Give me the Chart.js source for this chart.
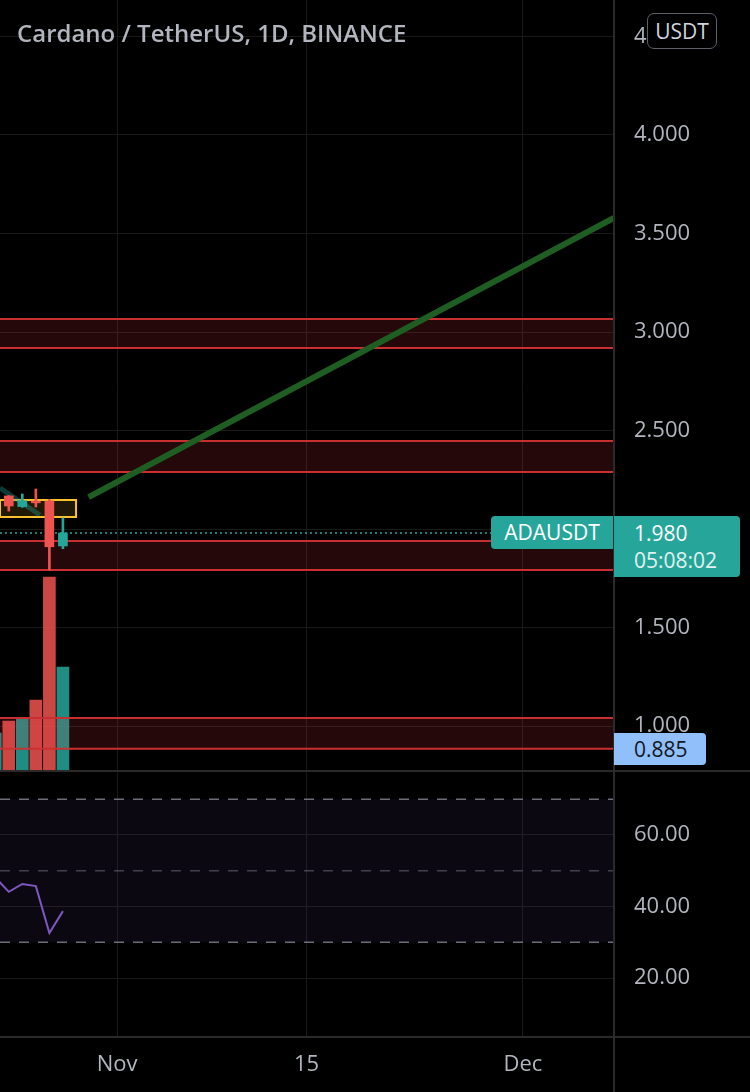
<!DOCTYPE html>
<html>
<head>
<meta charset="utf-8">
<script src="https://cdn.jsdelivr.net/npm/chart.js@4.4.1/dist/chart.umd.min.js"></script>
<style>
body { margin: 0; background: #000; }
#wrap { position: relative; width: 750px; height: 1092px; overflow: hidden; background: #000; font-family: 'Open Sans', sans-serif; }
canvas { position: absolute; left: 0; }
#main { top: 0; }
#rsi { top: 771px; }
.hline { position: absolute; left: 0; width: 750px; height: 2px; background: #2a2a2a; }
.vline { position: absolute; top: 0; left: 613px; width: 2px; height: 1092px; background: #2a2a2a; }
#title { position: absolute; left: 17px; top: 16px; font-size: 24px; font-weight: 600; color: #b2b5be; line-height: 34px; }
#unit { position: absolute; left: 647px; top: 13px; width: 68px; height: 34px; border: 1.5px solid #5d606b; border-radius: 7px; background: #000; color: #d1d4dc; font-size: 21px; line-height: 34px; text-align: center; }
#sym { position: absolute; left: 491px; top: 516px; width: 122px; height: 33px; background: #26a69a; border-radius: 4px 0 0 4px; color: #fff; font-size: 21px; line-height: 33px; text-align: center; }
#last { position: absolute; left: 614px; top: 516px; width: 126px; height: 61px; background: #26a69a; border-radius: 0 4px 4px 0; color: #fff; font-size: 21px; }
#last div { position: absolute; left: 20px; line-height: 28px; }
#low { position: absolute; left: 614px; top: 733px; width: 92px; height: 32px; background: #90bff9; border-radius: 0 4px 4px 0; color: #131722; font-size: 21px; line-height: 32px; padding-left: 20px; box-sizing: border-box; }
</style>
</head>
<body>
<div id="wrap">
  <canvas id="main" width="750" height="771"></canvas>
  <canvas id="rsi" width="750" height="321"></canvas>
  <div class="hline" style="top:770px"></div>
  <div class="hline" style="top:1036px"></div>
  <div class="vline"></div>
  <div id="title">Cardano / TetherUS, 1D, BINANCE</div>
  <div id="unit">USDT</div>
  <div id="sym">ADAUSDT</div>
  <div id="last"><div style="top:3px">1.980</div><div style="top:30px;color:#e0f2f1">05:08:02</div></div>
  <div id="low">0.885</div>
</div>
<script>
// day numbers counted from Oct 0 (Oct 23 = 23, Nov 1 = 32)
const days   = [23, 24, 25, 26, 27, 28];
const opens  = [2.120, 2.168, 2.114, 2.142, 2.142, 1.914];
const highs  = [2.200, 2.170, 2.178, 2.203, 2.150, 2.056];
const lows   = [2.090, 2.091, 2.110, 2.112, 1.792, 1.900];
const closes = [2.168, 2.117, 2.144, 2.133, 1.910, 1.980];
const volumes = [197, 259, 275, 368, 1006, 539]; // millions
const rsi    = [48.1, 44.1, 46.3, 45.7, 32.6, 38.7];

const xMin = 23.35, xMax = 68.73;
const xTickDays   = [32, 46, 62];
const xTickLabels = ['Nov', '15', 'Dec'];

const priceMin = 0.772, priceMax = 4.685;
const priceTicks      = [1.0, 1.5, 2.0, 2.5, 3.0, 3.5, 4.0, 4.5];
const priceTickLabels = ['1.000', '1.500', '2.000', '2.500', '3.000', '3.500', '4.000', '4.500'];
const volMax = 4000;

const rsiMin = 3.5, rsiMax = 77.9;
const rsiTicks      = [20, 40, 60];
const rsiTickLabels = ['20.00', '40.00', '60.00'];
const rsiLevels = [70, 50, 30];

// support / resistance zones
const zoneTop    = [3.066, 2.447, 1.939, 1.041];
const zoneBottom = [2.919, 2.289, 1.792, 0.885];

// yellow box
const boxDays = [23.35, 28.97];
const boxTop = 2.147, boxBottom = 2.061;

// drawn lines
const trendDays   = [29.9, 68.73];
const trendPrices = [2.162, 3.579];
const fadeDays    = [23.35, 26.3];
const fadePrices  = [2.208, 2.071];
const lastPrice = 1.980;

const RED = '#ef5350', TEAL = '#26a69a';
const up = closes.map((c, i) => c >= opens[i]);

const tickFont = { family: 'Open Sans', size: 22 };
const tickColor = '#b2b5be';
const gridColor = '#191919';

function pts(xs, ys) { return xs.map((x, i) => ({ x: x, y: ys[i] })); }
function flat(y) { return [{ x: xMin, y: y }, { x: xMax, y: y }]; }
function rightAxis(w) {
  return function (s) { s.width = w; s.paddingTop = 0; s.paddingBottom = 0; };
}

const zoneSets = [];
zoneTop.forEach((t, i) => {
  zoneSets.push({ type: 'line', data: flat(t), borderColor: '#c8302f', borderWidth: 2,
    fill: { value: zoneBottom[i] }, backgroundColor: 'rgba(242,54,69,0.15)', pointRadius: 0, order: 6 });
  zoneSets.push({ type: 'line', data: flat(zoneBottom[i]), borderColor: '#c8302f', borderWidth: 2,
    fill: false, pointRadius: 0, order: 6 });
});

new Chart(document.getElementById('main'), {
  type: 'bar',
  data: {
    datasets: [
      { type: 'line', data: pts(trendDays, trendPrices), borderColor: '#1f5e22', borderWidth: 6,
        pointRadius: 0, order: 1 },
      { data: days.map((d, i) => ({ x: d, y: [opens[i], closes[i]] })), backgroundColor: up.map(u => u ? TEAL : RED),
        barThickness: 9, grouped: false, order: 2 },
      { data: days.map((d, i) => ({ x: d, y: [lows[i], highs[i]] })), backgroundColor: up.map(u => u ? TEAL : RED),
        barThickness: 2, grouped: false, order: 3 },
      { type: 'line', data: pts(fadeDays, fadePrices), borderColor: 'rgba(38,166,154,0.35)', borderWidth: 5,
        pointRadius: 0, order: 4 },
      { type: 'line', data: [{ x: boxDays[0], y: boxTop }, { x: boxDays[1], y: boxTop }],
        borderWidth: 0, fill: { value: boxBottom }, backgroundColor: 'rgba(249,194,46,0.13)', pointRadius: 0, order: 5 },
      { type: 'line', data: [{ x: boxDays[0], y: boxTop }, { x: boxDays[1], y: boxTop }, { x: boxDays[1], y: boxBottom },
        { x: boxDays[0], y: boxBottom }, { x: boxDays[0], y: boxTop }],
        borderColor: '#f9c22e', borderWidth: 2, fill: false, pointRadius: 0, order: 5 },
      ...zoneSets,
      { type: 'line', data: flat(lastPrice), borderColor: TEAL, borderWidth: 1.5, borderDash: [2, 3],
        pointRadius: 0, order: 7 },
      { data: days.map((d, i) => ({ x: d, y: volumes[i] })), yAxisID: 'vol',
        backgroundColor: up.map(u => u ? 'rgba(38,166,154,0.85)' : 'rgba(239,83,80,0.85)'),
        barThickness: 12, grouped: false, order: 10 }
    ]
  },
  options: {
    responsive: false,
    animation: false,
    layout: { padding: 0 },
    plugins: { legend: { display: false }, tooltip: { enabled: false } },
    scales: {
      x: {
        type: 'linear', min: xMin, max: xMax, offset: false,
        grid: { color: gridColor, drawTicks: false, offset: false },
        border: { display: false },
        ticks: { display: false },
        afterBuildTicks: s => { s.ticks = xTickDays.map(v => ({ value: v })); },
        afterFit: s => { s.height = 0; s.paddingLeft = 0; s.paddingRight = 0; }
      },
      y: {
        position: 'right', min: priceMin, max: priceMax,
        grid: { color: gridColor, drawTicks: false },
        border: { display: false },
        ticks: { color: tickColor, font: tickFont, padding: 20, callback: (v, i) => priceTickLabels[i] },
        afterBuildTicks: s => { s.ticks = priceTicks.map(v => ({ value: v })); },
        afterFit: rightAxis(136)
      },
      vol: { display: false, min: 0, max: volMax }
    }
  }
});

new Chart(document.getElementById('rsi'), {
  type: 'line',
  data: {
    datasets: [
      { data: pts(days, rsi), borderColor: '#7e57c2', borderWidth: 2, pointRadius: 0, order: 1 },
      { data: flat(rsiLevels[0]), borderColor: 'rgba(120,123,134,0.9)', borderWidth: 1.5, borderDash: [10, 9],
        fill: { value: rsiLevels[2] }, backgroundColor: 'rgba(126,87,194,0.09)', pointRadius: 0, order: 3 },
      { data: flat(rsiLevels[1]), borderColor: 'rgba(120,123,134,0.5)', borderWidth: 1.5, borderDash: [10, 9],
        pointRadius: 0, order: 3 },
      { data: flat(rsiLevels[2]), borderColor: 'rgba(120,123,134,0.9)', borderWidth: 1.5, borderDash: [10, 9],
        pointRadius: 0, order: 3 }
    ]
  },
  options: {
    responsive: false,
    animation: false,
    layout: { padding: 0 },
    plugins: { legend: { display: false }, tooltip: { enabled: false } },
    scales: {
      x: {
        type: 'linear', min: xMin, max: xMax,
        grid: { color: gridColor, drawTicks: false },
        border: { display: false },
        ticks: { color: tickColor, font: tickFont, padding: 15, maxRotation: 0, callback: (v, i) => xTickLabels[i] },
        afterBuildTicks: s => { s.ticks = xTickDays.map(v => ({ value: v })); },
        afterFit: s => { s.height = 55; s.paddingLeft = 0; s.paddingRight = 0; }
      },
      y: {
        position: 'right', min: rsiMin, max: rsiMax,
        grid: { color: gridColor, drawTicks: false },
        border: { display: false },
        ticks: { color: tickColor, font: tickFont, padding: 20, callback: (v, i) => rsiTickLabels[i] },
        afterBuildTicks: s => { s.ticks = rsiTicks.map(v => ({ value: v })); },
        afterFit: rightAxis(136)
      }
    }
  }
});
</script>
</body>
</html>
